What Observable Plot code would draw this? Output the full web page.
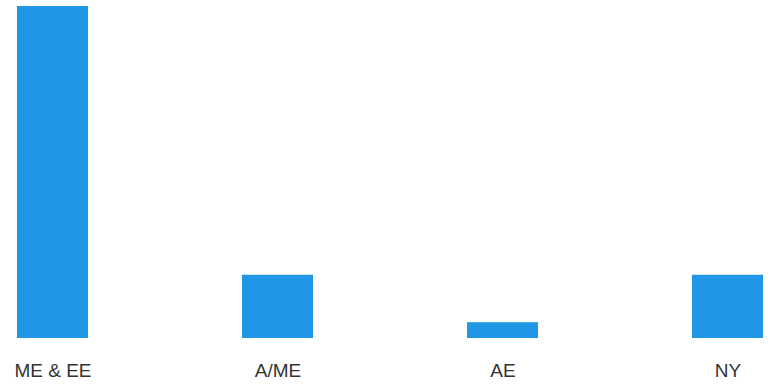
<!DOCTYPE html>
<html>
<head>
<meta charset="utf-8">
<script src="https://cdn.jsdelivr.net/npm/d3@7"></script>
<script src="https://cdn.jsdelivr.net/npm/@observablehq/plot@0.6"></script>
<style>
  html, body { margin: 0; padding: 0; background: #ffffff; }
  #chart svg { display: block; }
</style>
</head>
<body>
<div id="chart"></div>
<script>
const categories = ["ME & EE", "A/ME", "AE", "NY"];
const values = [21, 4, 1, 4];

const data = categories.map((c, i) => ({ category: c, value: values[i] }));

const chart = Plot.plot({
  width: 772,
  height: 387,
  marginLeft: 17,
  marginRight: 9,
  marginTop: 6,
  marginBottom: 49,
  style: { background: "#ffffff", fontFamily: "'Liberation Sans', Arial, sans-serif" },
  x: { domain: categories, paddingInner: 0.685, paddingOuter: 0, axis: null },
  y: { domain: [0, 21], axis: null },
  marks: [
    Plot.barY(data, { x: "category", y: "value", fill: "#1f97e6" }),
    Plot.axisX({ tickSize: 0, tickPadding: 25, fontSize: 19, color: "#333333", label: null })
  ]
});
document.getElementById("chart").appendChild(chart);
</script>
</body>
</html>
